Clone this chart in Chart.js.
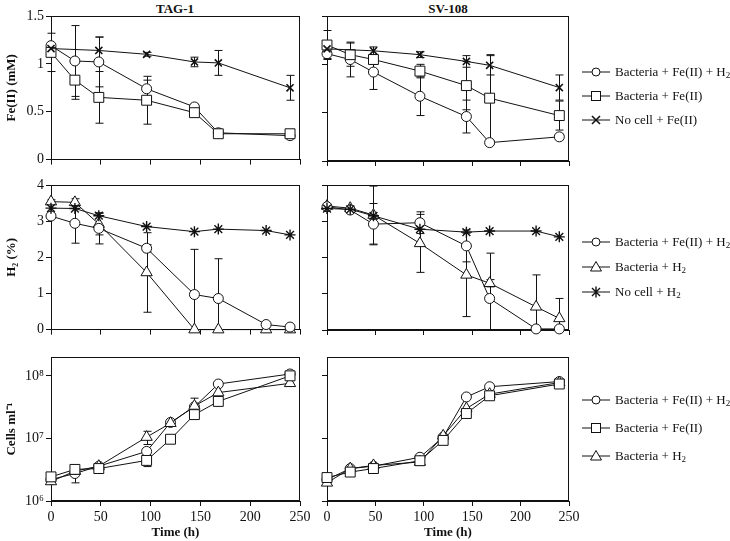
<!DOCTYPE html>
<html>
<head>
<meta charset="utf-8">
<script src="https://cdn.jsdelivr.net/npm/chart.js@4.4.0/dist/chart.umd.min.js"></script>
<style>
body { margin: 0; background: #fff; width: 730px; height: 541px; position: relative; overflow: hidden;
       font-family: 'Liberation Serif', 'Times New Roman', serif; color: #111; }
canvas { position: absolute; }
.ttl { position: absolute; top: 1px; font-weight: bold; font-size: 13px; transform: translateX(-50%); }
.leg { position: absolute; white-space: nowrap; font-size: 13px; height: 16px; line-height: 16px; left: 582px; }
.leg svg { position: absolute; left: 0; top: 2px; }
.leg span { position: absolute; left: 33px; top: 0; }
.leg sub { font-size: 9px; vertical-align: -2px; line-height: 0; }
</style>
</head>
<body>
<div class="ttl" style="left:175px">TAG-1</div>
<div class="ttl" style="left:448px">SV-108</div>

<canvas id="fe-tag" width="320" height="170" style="left:0;top:0"></canvas>
<canvas id="fe-sv" width="290" height="170" style="left:300px;top:0"></canvas>
<canvas id="h2-tag" width="320" height="170" style="left:0;top:170px"></canvas>
<canvas id="h2-sv" width="290" height="170" style="left:300px;top:170px"></canvas>
<canvas id="cells-tag" width="320" height="201" style="left:0;top:340px"></canvas>
<canvas id="cells-sv" width="290" height="201" style="left:300px;top:340px"></canvas>

<div id="legends"></div>

<script>
// sampling times (h)
const tFe = [0, 24, 48, 96, 144, 168, 240];
const tH2 = [0, 24, 48, 96, 144, 168, 216, 240];
const tCells = [0, 24, 48, 96, 120, 144, 168, 240];

// Fe(II) (mM)
const feTagBactH2 = [1.19, 1.03, 1.02, 0.74, 0.55, 0.28, 0.25];
const feTagBactH2Err = [0.02, 0.37, 0.26, 0.09, 0.03, 0.02, 0.02];
const feTagBact = [1.12, 0.83, 0.65, 0.62, 0.49, 0.27, 0.27];
const feTagBactErr = [0.2, 0.2, 0.27, 0.25, 0.03, 0.03, 0.03];
const feTagNoCell = [1.16, null, 1.14, 1.10, 1.02, 1.01, 0.75];
const feTagNoCellErr = [0.03, 0, 0.14, 0.02, 0.05, 0.13, 0.13];

const feSvBactH2 = [1.11, 1.05, 0.92, 0.67, 0.46, 0.19, 0.25];
const feSvBactH2Err = [0.05, 0.18, 0.18, 0.2, 0.17, 0.02, 0.03];
const feSvBact = [1.20, 1.10, 1.05, 0.93, 0.78, 0.65, 0.47];
const feSvBactErr = [0.15, 0.12, 0.05, 0.07, 0.25, 0.45, 0.15];
const feSvNoCell = [1.16, null, 1.14, 1.10, 1.03, 0.99, 0.76];
const feSvNoCellErr = [0.03, 0, 0.04, 0.03, 0.06, 0.1, 0.13];

// H2 (%)
const h2TagBactFe = [3.14, 2.94, 2.80, 2.25, 0.97, 0.86, 0.14, 0.07];
const h2TagBactFeErr = [0.05, 0.55, 0.43, 0.1, 1.25, 1.1, 0.03, 0.03];
const h2TagBact = [3.54, 3.52, 2.92, 1.58, 0, 0, 0, 0];
const h2TagBactErr = [0.05, 0.1, 0.3, 1.1, 0, 0, 0, 0];
const h2TagNoCell = [3.36, 3.35, 3.15, 2.85, 2.71, 2.78, 2.74, 2.62];

const h2SvBactFe = [3.40, 3.31, 2.92, 2.96, 2.32, 0.87, 0.03, 0.03];
const h2SvBactFeErr = [0.05, 0.05, 0.57, 0.3, 0.44, 1.25, 0, 0];
const h2SvBact = [3.42, 3.36, 3.17, 2.39, 1.52, 1.29, 0.64, 0.32];
const h2SvBactErr = [0.05, 0.05, 0.8, 0.8, 1.15, 0.1, 0.88, 0.55];
const h2SvNoCell = [3.35, 3.33, 3.15, 2.78, 2.70, 2.73, 2.73, 2.57];

// cells ml-1
const cellsTagBactFeH2 = [2.2e6, 2.75e6, 3.6e6, 6.2e6, 1.8e7, 3.2e7, 7.4e7, 1.07e8];
const cellsTagBactFeH2Err = [0, 0.8e6, 0, 0, 0, 0, 0, 0];
const cellsTagBactFe = [2.43e6, 3.2e6, 3.3e6, 4.45e6, 9.7e6, 2.4e7, 3.9e7, 1.0e8];
const cellsTagBactFeErr = [0, 0, 0, 0.9e6, 0, 3e6, 4e6, 0];
const cellsTagBactH2 = [2.05e6, 3.0e6, 3.6e6, 1.05e7, 1.75e7, 3.3e7, 5.4e7, 7.6e7];
const cellsTagBactH2Err = [0, 0, 0, 2.5e6, 0, 1.1e7, 0, 0];

const cellsSvBactFeH2 = [2.2e6, 3.3e6, 3.6e6, 5.0e6, 1.05e7, 4.6e7, 6.7e7, 8.1e7];
const cellsSvBactFe = [2.37e6, 2.9e6, 3.3e6, 4.4e6, 9.3e6, 2.5e7, 4.8e7, 7.4e7];
const cellsSvBactH2 = [1.95e6, 3.3e6, 3.7e6, 4.2e6, 1.1e7, 3.0e7, 5.1e7, 7.8e7];

const timeTicks = [0, 50, 100, 150, 200, 250];
const logTicks = [1e6, 1e7, 1e8];
const logLabels = ['10\u2076', '10\u2077', '10\u2078'];

const FONT = "'Liberation Serif', 'Times New Roman', serif";
const INK = '#111';

const SHAPES = {
    circle: { pointStyle: 'circle', pointRadius: 5, pointBorderWidth: 1 },
    square: { pointStyle: 'rect', pointRadius: 7, pointBorderWidth: 1 },
    triangle: { pointStyle: 'triangle', pointRadius: 6.5, pointBorderWidth: 1 },
    cross: { pointStyle: 'crossRot', pointRadius: 5, pointBorderWidth: 1.6 },
    star: { pointStyle: 'star', pointRadius: 5.5, pointBorderWidth: 1.4 }
};

function series(t, vals, errs, shape) {
    return Object.assign({
        data: t.map((x, i) => ({ x, y: vals[i] })),
        errs: errs,
        borderColor: INK,
        borderWidth: 1,
        backgroundColor: '#fff',
        pointBackgroundColor: '#fff',
        pointBorderColor: INK,
        pointHoverRadius: 0,
        spanGaps: true,
        tension: 0,
        clip: false
    }, SHAPES[shape]);
}

// vertical error bars with caps, drawn under the markers
const errorBars = {
    id: 'errorBars',
    beforeDatasetsDraw(chart) {
        const { ctx, chartArea: a, scales: { x, y } } = chart;
        ctx.save();
        ctx.beginPath();
        ctx.rect(a.left - 6, a.top, a.width + 12, a.height);
        ctx.clip();
        ctx.strokeStyle = INK;
        ctx.lineWidth = 1;
        chart.data.datasets.forEach(d => {
            if (!d.errs) return;
            d.data.forEach((p, i) => {
                const e = d.errs[i];
                if (p.y == null || !e) return;
                const px = Math.round(x.getPixelForValue(p.x)) + 0.5;
                const top = y.getPixelForValue(p.y + e);
                const bot = y.getPixelForValue(Math.max(p.y - e, y.min));
                ctx.beginPath();
                ctx.moveTo(px, top); ctx.lineTo(px, bot);
                ctx.moveTo(px - 4, top); ctx.lineTo(px + 4, top);
                if (p.y - e > y.min) { ctx.moveTo(px - 4, bot); ctx.lineTo(px + 4, bot); }
                ctx.stroke();
            });
        });
        ctx.restore();
    }
};

// box around the plot area
const frame = {
    id: 'frame',
    beforeDatasetsDraw(chart) {
        const { ctx, chartArea: a } = chart;
        ctx.save();
        ctx.strokeStyle = INK;
        ctx.lineWidth = 1;
        ctx.strokeRect(Math.round(a.left) + 0.5, Math.round(a.top) + 0.5,
                       Math.round(a.width) - 1, Math.round(a.height) - 1);
        ctx.restore();
    }
};

function panel(id, datasets, o) {
    const left = o.left;
    const yScale = {
        type: o.log ? 'logarithmic' : 'linear',
        min: o.min, max: o.max,
        ticks: {
            display: left, color: INK, padding: 2,
            font: { family: FONT, size: 14 },
            stepSize: o.step,
            callback: o.log ? (v => logLabels[logTicks.indexOf(v)] || '') : undefined
        },
        grid: { drawOnChartArea: false, color: INK, tickColor: INK, tickLength: 5 },
        border: { color: INK, width: 1 },
        title: { display: left && !!o.yTitle, text: o.yTitle, color: INK,
                 font: { family: FONT, size: 13, weight: 'bold' }, padding: { top: 4, bottom: 4 } },
        afterFit(s) { s.width = left ? 51 : 27; }
    };
    if (o.log) yScale.afterBuildTicks = s => { s.ticks = logTicks.map(v => ({ value: v })); };

    return new Chart(document.getElementById(id), {
        type: 'line',
        data: { datasets },
        options: {
            responsive: false,
            animation: false,
            events: [],
            layout: { padding: { top: o.padTop, right: left ? 20 : 21, left: 0, bottom: 0 } },
            plugins: { legend: { display: false }, tooltip: { enabled: false } },
            scales: {
                x: {
                    type: 'linear', min: 0, max: 250,
                    afterBuildTicks: s => { s.ticks = timeTicks.map(v => ({ value: v })); },
                    ticks: { display: !!o.xLabels, color: INK, padding: 3, maxRotation: 0,
                             font: { family: FONT, size: 14 } },
                    grid: { drawOnChartArea: false, color: INK, tickColor: INK, tickLength: 5 },
                    border: { color: INK, width: 1 },
                    title: { display: !!o.xLabels, text: 'Time (h)', color: INK,
                             font: { family: FONT, size: 13, weight: 'bold' }, padding: { top: 0, bottom: 1 } },
                    afterFit(s) { s.height = o.xH; s.paddingLeft = 0; s.paddingRight = 0; }
                },
                y: yScale
            }
        },
        plugins: [frame, errorBars]
    });
}

panel('fe-tag', [
    series(tFe, feTagNoCell, feTagNoCellErr, 'cross'),
    series(tFe, feTagBact, feTagBactErr, 'square'),
    series(tFe, feTagBactH2, feTagBactH2Err, 'circle')
], { left: true, min: 0, max: 1.5, step: 0.5, yTitle: 'Fe(II) (mM)', padTop: 16, xH: 9 });

panel('fe-sv', [
    series(tFe, feSvNoCell, feSvNoCellErr, 'cross'),
    series(tFe, feSvBact, feSvBactErr, 'square'),
    series(tFe, feSvBactH2, feSvBactH2Err, 'circle')
], { left: false, min: 0, max: 1.5, step: 0.5, padTop: 16, xH: 9 });

panel('h2-tag', [
    series(tH2, h2TagNoCell, null, 'star'),
    series(tH2, h2TagBactFe, h2TagBactFeErr, 'circle'),
    series(tH2, h2TagBact, h2TagBactErr, 'triangle')
], { left: true, min: 0, max: 4, step: 1, yTitle: 'H\u2082 (%)', padTop: 15, xH: 10 });

panel('h2-sv', [
    series(tH2, h2SvNoCell, null, 'star'),
    series(tH2, h2SvBactFe, h2SvBactFeErr, 'circle'),
    series(tH2, h2SvBact, h2SvBactErr, 'triangle')
], { left: false, min: 0, max: 4, step: 1, padTop: 15, xH: 10 });

panel('cells-tag', [
    series(tCells, cellsTagBactFe, cellsTagBactFeErr, 'square'),
    series(tCells, cellsTagBactH2, cellsTagBactH2Err, 'triangle'),
    series(tCells, cellsTagBactFeH2, cellsTagBactFeH2Err, 'circle')
], { left: true, log: true, min: 1e6, max: 2e8, yTitle: 'Cells ml\u207B\u00B9', padTop: 17, xH: 40, xLabels: true });

panel('cells-sv', [
    series(tCells, cellsSvBactFe, null, 'square'),
    series(tCells, cellsSvBactH2, null, 'triangle'),
    series(tCells, cellsSvBactFeH2, null, 'circle')
], { left: false, log: true, min: 1e6, max: 2e8, padTop: 17, xH: 40, xLabels: true });

// legends (HTML, markers drawn as small svg)
const MARKERS = {
    circle: '<circle cx="14" cy="6" r="4" fill="#fff" stroke="#111"/>',
    square: '<rect x="9.5" y="1.5" width="9" height="9" fill="#fff" stroke="#111"/>',
    triangle: '<polygon points="14,0.5 19.5,10 8.5,10" fill="#fff" stroke="#111"/>',
    cross: '<path d="M10 2 L18 10 M18 2 L10 10" stroke="#111" stroke-width="1.6"/>',
    star: '<path d="M10 2 L18 10 M18 2 L10 10 M14 0.5 L14 11.5" stroke="#111" stroke-width="1.4"/>'
};
const legendRows = [
    [72, 'circle', 'Bacteria + Fe(II) + H<sub>2</sub>'],
    [96, 'square', 'Bacteria + Fe(II)'],
    [120, 'cross', 'No cell + Fe(II)'],
    [242, 'circle', 'Bacteria + Fe(II) + H<sub>2</sub>'],
    [267, 'triangle', 'Bacteria + H<sub>2</sub>'],
    [292, 'star', 'No cell + H<sub>2</sub>'],
    [400, 'circle', 'Bacteria + Fe(II) + H<sub>2</sub>'],
    [428, 'square', 'Bacteria + Fe(II)'],
    [456, 'triangle', 'Bacteria + H<sub>2</sub>']
];
document.getElementById('legends').innerHTML = legendRows.map(([y, shape, label]) =>
    `<div class="leg" style="top:${y - 8}px"><svg width="28" height="12">` +
    `<line x1="0" y1="6" x2="28" y2="6" stroke="#111"/>${MARKERS[shape]}</svg>` +
    `<span>${label}</span></div>`).join('');
</script>
</body>
</html>
